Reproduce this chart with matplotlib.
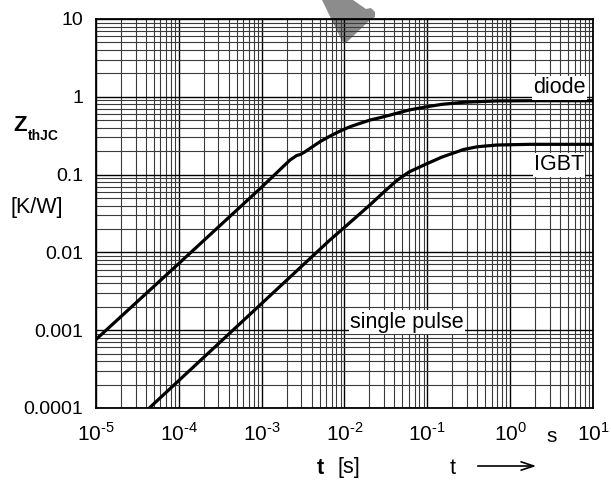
import matplotlib
matplotlib.use("Agg")
import matplotlib.pyplot as plt
from matplotlib.patches import Polygon, FancyArrowPatch
from matplotlib.ticker import FixedLocator, LogLocator, NullFormatter

plt.rcParams['font.family'] = ['Liberation Sans', 'DejaVu Sans']
plt.rcParams['mathtext.fontset'] = 'custom'
plt.rcParams['mathtext.rm'] = 'Liberation Sans'
plt.rcParams['mathtext.bf'] = 'Liberation Sans:bold'

# diode curve
t_diode = [1e-5, 1e-4, 1e-3, 2.2e-3, 2.65e-3, 2.91e-3, 3.3e-3, 3.85e-3, 5.07e-3,
           6.7e-3, 8.85e-3, 1.17e-2, 1.54e-2, 2.04e-2, 2.69e-2, 3.56e-2,
           6e-2, 9.87e-2, 0.15, 0.273, 0.4, 0.69, 1.74, 10]
z_diode = [0.00076, 0.0072, 0.069, 0.154, 0.176, 0.181, 0.195, 0.218, 0.265,
           0.313, 0.363, 0.413, 0.456, 0.503, 0.539, 0.583,
           0.676, 0.745, 0.80, 0.85, 0.865, 0.885, 0.89, 0.89]

# IGBT curve
t_igbt = [4.4e-5, 4.5e-4, 4.6e-3, 6.7e-3, 1e-2, 2.04e-2, 3e-2, 4.28e-2, 6e-2,
          9.87e-2, 0.15, 0.273, 0.4, 0.69, 1.74, 10]
z_igbt = [0.0001, 0.001, 0.01, 0.0145, 0.021, 0.041, 0.060, 0.084, 0.108,
          0.138, 0.168, 0.21, 0.228, 0.24, 0.245, 0.245]

x_ticks = [1e-5, 1e-4, 1e-3, 1e-2, 1e-1, 1e0, 1e1]
x_labels = ['10$^{\\text{-5}}$', '10$^{\\text{-4}}$', '10$^{\\text{-3}}$',
            '10$^{\\text{-2}}$', '10$^{\\text{-1}}$', '10$^{\\text{0}}$',
            '10$^{\\text{1}}$']
y_ticks = [1e-4, 1e-3, 1e-2, 1e-1, 1, 10]
y_labels = ['0.0001', '0.001', '0.01', '0.1', '1', '10']

W, H = 611, 480
fig = plt.figure(figsize=(W / 100, H / 100), dpi=100)
ax = fig.add_axes([96 / W, 1 - 408 / H, (593 - 96) / W, (408 - 19) / H])
ax.set_facecolor('none')

ax.set_xscale('log')
ax.set_yscale('log')
ax.set_xlim(1e-5, 10)
ax.set_ylim(1e-4, 10)

ax.plot(t_diode, z_diode, color='black', lw=2.3, solid_joinstyle='round', zorder=3)
ax.plot(t_igbt, z_igbt, color='black', lw=2.3, solid_joinstyle='round', zorder=3)

ax.xaxis.set_major_locator(FixedLocator(x_ticks))
ax.set_xticklabels(x_labels, fontsize=15)
ax.yaxis.set_major_locator(FixedLocator(y_ticks))
ax.set_yticklabels(y_labels, fontsize=14)
for axis in (ax.xaxis, ax.yaxis):
    axis.set_minor_locator(LogLocator(base=10, subs=range(2, 10), numticks=20))
    axis.set_minor_formatter(NullFormatter())
ax.tick_params(which='both', length=0)
ax.tick_params(axis='x', pad=10)
ax.tick_params(axis='y', pad=9)

ax.grid(True, which='major', color='black', lw=1.0, zorder=1)
ax.grid(True, which='minor', color='#3a3a3a', lw=0.8, zorder=1)
for s in ax.spines.values():
    s.set_linewidth(1.3)

box = dict(facecolor='white', edgecolor='none', pad=1.0)
ax.text(3.9, 1.3, 'diode', fontsize=15.5, ha='center', va='center', bbox=box, zorder=4)
ax.text(3.9, 0.133, 'IGBT', fontsize=15.5, ha='center', va='center', bbox=box, zorder=4)
ax.text(0.057, 0.00127, 'single pulse', fontsize=15.5, ha='center', va='center',
        bbox=box, zorder=4)

# axis titles
def px(x, y):
    return x / W, 1 - y / H

fig.text(*px(13, 125), 'Z', fontsize=16, fontweight='bold', ha='left', va='center')
fig.text(*px(28, 136), 'thJC', fontsize=10, fontweight='bold', ha='left', va='center')
fig.text(*px(37, 207), '[K/W]', fontsize=15.5, ha='center', va='center')
fig.text(*px(552, 437), 's', fontsize=15, ha='center', va='center')
fig.text(*px(320, 468), 't', fontsize=15.5, fontweight='bold', ha='center', va='center')
fig.text(*px(349, 468), '[s]', fontsize=15.5, ha='center', va='center')
fig.text(*px(453, 468), 't', fontsize=15.5, ha='center', va='center')
fig.add_artist(FancyArrowPatch(
    px(475, 466), px(539, 466), transform=fig.transFigure,
    arrowstyle='->,head_length=9,head_width=3', color='black', lw=1.2))

# grey watermark shape at the top
wm = [(322, 0), (353, 0), (366, 9), (371, 8), (375, 12), (375, 17),
      (370, 20), (346, 43), (342, 41)]
fig.add_artist(Polygon([px(a, b) for a, b in wm], closed=True,
                       transform=fig.transFigure, facecolor='#8c8c8c',
                       edgecolor='none', zorder=-1))

fig.savefig('out.png', dpi=100)
